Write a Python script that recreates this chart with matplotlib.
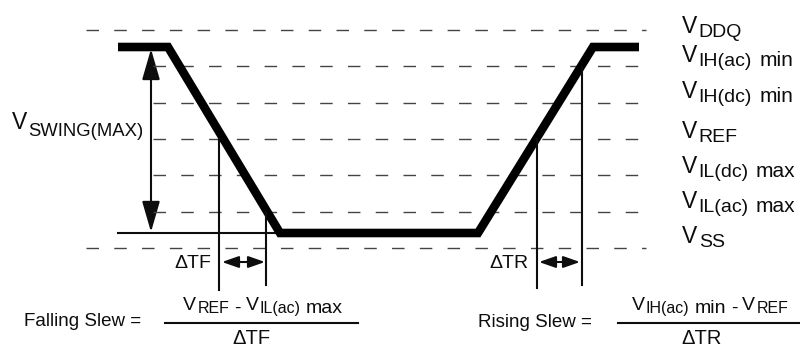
import matplotlib.pyplot as plt
from matplotlib.patches import FancyArrowPatch
from matplotlib.font_manager import FontProperties

FONT = 'Liberation Sans'
INK = '#0d0d0d'
GRID = '#444444'

# reference levels, in picture rows (0 = top edge)
level_names = ['VDDQ', 'VIH(ac) min', 'VIH(dc) min', 'VREF', 'VIL(dc) max', 'VIL(ac) max', 'VSS']
level_y = [30, 66, 103, 139, 175, 212, 248]
level_x0 = [86, 153, 153, 153, 153, 153, 86]
level_x1 = 646

# right-hand labels: (text, role) pieces, role is 'V', 'sub' or 'word'
level_labels = [
    [('V', 'V'), ('DDQ', 'sub')],
    [('V', 'V'), ('IH(ac)', 'sub'), ('min', 'word')],
    [('V', 'V'), ('IH(dc)', 'sub'), ('min', 'word')],
    [('V', 'V'), ('REF', 'sub')],
    [('V', 'V'), ('IL(dc)', 'sub'), ('max', 'word')],
    [('V', 'V'), ('IL(ac)', 'sub'), ('max', 'word')],
    [('V', 'V'), ('SS', 'sub')],
]
label_base = [33, 62, 98, 138, 173, 208, 243]
label_x = 682

# the signal trace
signal_x = [118, 168, 280, 478, 593, 639]
signal_y = [47, 47, 233, 233, 47, 47]

# timing marker lines
marker_x = [219, 266, 537, 582]
marker_top = [139, 212, 139, 67]
marker_bottom = [290, 285, 288, 285]

# delta-t arrows
dt_names = ['\u0394TF', '\u0394TR']
dt_x0 = [222, 539]
dt_x1 = [265, 580]
dt_y = 262

swing_x = 151
swing_top, swing_bottom = 49, 232

fig = plt.figure(figsize=(8, 3.47), dpi=100)
ax = fig.add_axes([0, 0, 1, 1])
ax.set_xlim(0, 800)
ax.set_ylim(347, 0)
ax.axis('off')
renderer = fig.canvas.get_renderer()


def rich(x, y, parts, sizes, drop, gaps, ha='left'):
    # draw text pieces one after another; subscripts and trailing words sit lower
    widths = []
    for s, role in parts:
        prop = FontProperties(family=FONT, size=sizes[role])
        w, h, d = renderer.get_text_width_height_descent(s, prop, ismath=False)
        widths.append(w)
    total = sum(widths) + sum(gaps[r] for _, r in parts[1:])
    if ha == 'center':
        x -= total / 2
    for i, ((s, role), w) in enumerate(zip(parts, widths)):
        if i > 0:
            x += gaps[role]
        yy = y if role == 'V' else y + drop
        ax.text(x, yy, s, fontsize=sizes[role], family=FONT, color=INK,
                ha='left', va='baseline')
        x += w


# dashed reference levels
for y, x0 in zip(level_y, level_x0):
    ax.plot([x0, level_x1], [y, y], color=GRID, lw=1.0, ls=(0, (9, 11)))

# level labels
lab_sizes = {'V': 16.5, 'sub': 14, 'word': 15}
lab_gaps = {'sub': 1.5, 'word': 7, 'V': 4}
for parts, yb in zip(level_labels, label_base):
    rich(label_x, yb, parts, lab_sizes, 4, lab_gaps)

# thin baseline under the low level
ax.plot([signal_x[0], signal_x[2]], [signal_y[2], signal_y[2]], color=INK, lw=1.5)

# signal
ax.plot(signal_x, signal_y, color='black', lw=6.2,
        solid_joinstyle='miter', solid_capstyle='butt')

# marker lines
for x, t, b in zip(marker_x, marker_top, marker_bottom):
    ax.plot([x, x], [t, b], color=INK, lw=1.5)

# V swing arrow
ax.add_patch(FancyArrowPatch((swing_x, swing_bottom), (swing_x, swing_top),
                             arrowstyle='<|-|>,head_length=19,head_width=5.5',
                             mutation_scale=1, shrinkA=0, shrinkB=0,
                             color=INK, lw=1.5))
swing_sizes = {'V': 16.5, 'sub': 13.3}
rich(12, 129, [('V', 'V'), ('SWING(MAX)', 'sub')], swing_sizes, 7, {'sub': 1})

# delta t arrows
for name, x0, x1, xm in zip(dt_names, dt_x0, dt_x1, [219, 537]):
    ax.add_patch(FancyArrowPatch((x0, dt_y), (x1, dt_y),
                                 arrowstyle='<|-|>,head_length=10,head_width=3.5',
                                 mutation_scale=1, shrinkA=0, shrinkB=0,
                                 color=INK, lw=1.5))
    ax.text(xm - 8, 268, name, fontsize=14, family=FONT, color=INK,
            ha='right', va='baseline')

# slew formulas
eq_sizes = {'V': 14, 'sub': 11.5, 'word': 14}
eq_gaps = {'sub': 1, 'word': 5, 'V': 5}
ax.text(24, 326, 'Falling Slew =', fontsize=13.5, family=FONT, color=INK,
        ha='left', va='baseline')
ax.plot([165, 358], [323, 323], color=INK, lw=1.5)
rich(263, 310, [('V', 'V'), ('REF', 'sub'), ('-', 'word'), ('V', 'V'),
                ('IL(ac)', 'sub'), ('max', 'word')], eq_sizes, 3, eq_gaps, ha='center')
ax.text(251, 344, '\u0394TF', fontsize=14.5, family=FONT, color=INK,
        ha='center', va='baseline')

ax.text(478, 327, 'Rising Slew =', fontsize=13.5, family=FONT, color=INK,
        ha='left', va='baseline')
ax.plot([618, 800], [323, 323], color=INK, lw=1.5)
rich(710, 310, [('V', 'V'), ('IH(ac)', 'sub'), ('min', 'word'), ('-', 'word'),
                ('V', 'V'), ('REF', 'sub')], eq_sizes, 3, eq_gaps, ha='center')
ax.text(702, 344, '\u0394TR', fontsize=14.5, family=FONT, color=INK,
        ha='center', va='baseline')

fig.savefig('out.png', dpi=100)
